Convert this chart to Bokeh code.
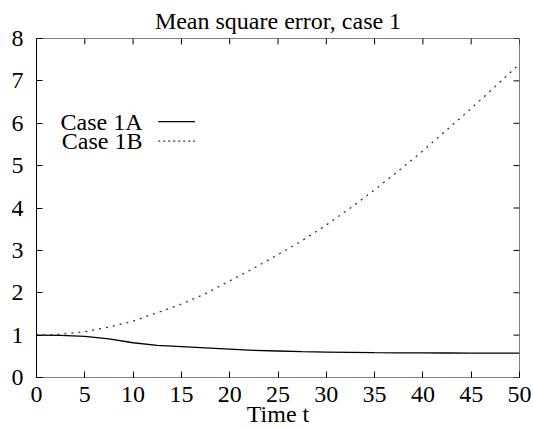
from bokeh.plotting import figure
from bokeh.models import LinearAxis, FixedTicker, Range1d, Label, Span
from bokeh.embed import file_html
from bokeh.resources import INLINE

# ---- data ----
t_values = [0, 2.5, 5, 7.5, 10, 12.5, 15, 17.5, 20, 22.5, 25, 27.5, 30,
            32.5, 35, 37.5, 40, 42.5, 45, 47.5, 50]
case_1a = [1.0, 0.995, 0.97, 0.91, 0.82, 0.76, 0.73, 0.70, 0.67, 0.64, 0.625,
           0.61, 0.60, 0.592, 0.585, 0.582, 0.58, 0.578, 0.577, 0.576, 0.575]
case_1b = [1.0, 1.02, 1.08, 1.19, 1.33, 1.53, 1.73, 1.98, 2.28, 2.58, 2.90,
           3.23, 3.60, 4.00, 4.43, 4.88, 5.35, 5.85, 6.35, 6.87, 7.40]
x_ticks = [0, 5, 10, 15, 20, 25, 30, 35, 40, 45, 50]
y_ticks = [0, 1, 2, 3, 4, 5, 6, 7, 8]
series_names = ["Case 1A", "Case 1B"]
title_text = "Mean square error, case 1"
x_label = "Time t"

FONT = "Liberation Serif"
FS = "24px"
X0, X1, Y0, Y1 = 0, 50, 0, 8

p = figure(width=533, height=429, output_backend="svg", toolbar_location=None,
           x_range=Range1d(X0, X1), y_range=Range1d(Y0, Y1),
           min_border_left=36, min_border_right=14, min_border_top=35,
           min_border_bottom=51, x_axis_location=None, y_axis_location=None)
p.grid.visible = False
p.outline_line_color = None
p.background_fill_color = "white"
p.border_fill_color = "white"

p.title.text = title_text
p.title.align = "center"
p.title.text_font = FONT
p.title.text_font_size = FS
p.title.text_font_style = "normal"
p.title.text_color = "black"
p.title.standoff = 10

def style_axis(ax, dash=None):
    ax.major_tick_in = 6
    ax.major_tick_out = 0
    ax.minor_tick_line_color = None
    ax.axis_line_color = "black"
    ax.axis_line_width = 1
    ax.major_tick_line_color = "black"
    if dash:
        ax.axis_line_dash = dash
    ax.major_label_text_font = FONT
    ax.major_label_text_font_size = FS
    ax.major_label_text_color = "black"

xb = LinearAxis(ticker=FixedTicker(ticks=x_ticks))
style_axis(xb, dash="1 1")
xb.major_label_standoff = 9
xb.axis_label = x_label
xb.axis_label_text_font = FONT
xb.axis_label_text_font_size = FS
xb.axis_label_text_font_style = "normal"
xb.axis_label_text_color = "black"
xb.axis_label_standoff = -4
p.add_layout(xb, "below")

yl = LinearAxis(ticker=FixedTicker(ticks=y_ticks))
style_axis(yl)
yl.major_label_standoff = 13
p.add_layout(yl, "left")

# top and right border lines
p.add_layout(Span(location=Y1, dimension="width", line_color="black", line_width=1))
p.add_layout(Span(location=X1, dimension="height", line_color="black", line_width=1))

# mirrored ticks on top and right (6 px inward)
dy = 6 / 43.0
dx = 6 / 9.66
p.segment(x0=x_ticks, y0=[Y1] * len(x_ticks), x1=x_ticks, y1=[Y1 - dy] * len(x_ticks),
          line_color="black", line_width=1)
p.segment(x0=[X1] * len(y_ticks), y0=y_ticks, x1=[X1 - dx] * len(y_ticks), y1=y_ticks,
          line_color="black", line_width=1)

p.line(t_values, case_1a, line_color="black", line_width=1.3)
p.line(t_values, case_1b, line_color="#333333", line_width=1.3, line_dash="2 5")

# legend (gnuplot style: text right-aligned, sample to the right)
leg_y = [6.04, 5.58]
leg_dash = ["solid", "2 3"]
leg_col = ["black", "#333333"]
for name, yy, dash, col in zip(series_names, leg_y, leg_dash, leg_col):
    p.add_layout(Label(x=10.97, y=yy, text=name, text_align="right",
                       text_baseline="middle", text_font=FONT,
                       text_font_size=FS, text_color="black"))
    p.line([12.6, 16.4], [yy, yy], line_color=col, line_width=1.3, line_dash=dash)

open("out.html", "w").write(file_html(p, INLINE))
